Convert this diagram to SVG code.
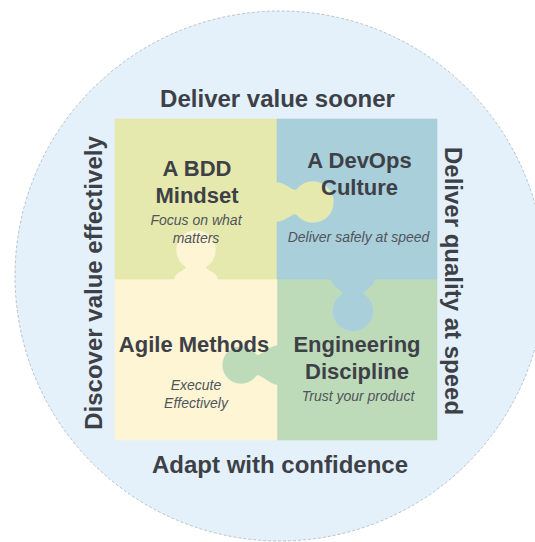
<svg xmlns="http://www.w3.org/2000/svg" width="535" height="542" viewBox="0 0 535 542">
  <style>
    .title { font-family: "Liberation Sans", Arial, Helvetica, sans-serif; font-weight: bold; font-size: 22px; fill: #3d4147; text-anchor: middle; }
    .sub { font-family: "Liberation Sans", Arial, Helvetica, sans-serif; font-style: italic; font-size: 14px; fill: #50555b; text-anchor: middle; }
    .axis { font-family: "Liberation Sans", Arial, Helvetica, sans-serif; font-weight: bold; font-size: 24px; fill: #3d4147; text-anchor: middle; }
    .piece { stroke-width: 0.6; stroke-linejoin: round; }
  </style>
  <rect width="535" height="542" fill="#ffffff"/>
  <circle id="backdrop" cx="280" cy="276" r="265" fill="#e4f1fb" stroke="#aab5bd" stroke-width="0.8" stroke-dasharray="3 2"/>

  <g id="connectors"></g>

  <g id="engineering">
    <path class="piece" fill="#bddbb9" stroke="#bddbb9" d="M277,279 H331 C331,286 345.3,292.1 342,294.3 A20,20 0 1 0 364,294.3 C360.7,292.1 375,286 375,279 H437 V440 H277 V385 C270,385 258.8,372.7 256.5,376 A19,19 0 1 1 256.5,354 C258.8,357.3 270,345 277,345 Z"/>
    <text class="title" x="357" y="352">Engineering</text>
    <text class="title" x="357" y="379">Discipline</text>
    <text class="sub" x="358" y="401">Trust your product</text>
  </g>

  <g id="agile">
    <path class="piece" fill="#fdf5d3" stroke="#fdf5d3" d="M115,279 H174 C174,272 188.3,268.9 185,266.7 A20,20 0 1 1 207,266.7 C203.7,268.9 218,272 218,279 H277 V345 C270,345 258.8,357.3 256.5,354 A19,19 0 1 0 256.5,376 C258.8,372.7 270,385 277,385 V440 H115 Z"/>
    <text class="title" x="194" y="352" font-size="21">Agile Methods</text>
    <text class="sub" x="196" y="390">Execute</text>
    <text class="sub" x="196" y="408">Effectively</text>
  </g>

  <g id="bdd">
    <path class="piece" fill="#e6e9ad" stroke="#e6e9ad" d="M115,119 H277 V182 C285,182 294,192.1 296.5,189 A21,21 0 1 1 296.5,215 C294,211.9 285,222 277,222 V279 H218 C218,272 203.7,268.9 207,266.7 A20,20 0 1 0 185,266.7 C188.3,268.9 174,272 174,279 H115 Z"/>
    <text class="title" x="197" y="176">A BDD</text>
    <text class="title" x="197" y="203">Mindset</text>
    <text class="sub" x="196" y="225">Focus on what</text>
    <text class="sub" x="196" y="243">matters</text>
  </g>

  <g id="devops">
    <path class="piece" fill="#a9cfda" stroke="#a9cfda" d="M277,119 H437 V279 H375 C375,286 360.7,292.1 364,294.3 A20,20 0 1 1 342,294.3 C345.3,292.1 331,286 331,279 H277 V222 C285,222 294,211.9 296.5,215 A21,21 0 1 0 296.5,189 C294,192.1 285,182 277,182 Z"/>
    <text class="title" x="359.5" y="168">A DevOps</text>
    <text class="title" x="359.5" y="195">Culture</text>
    <text class="sub" x="358.5" y="242">Deliver safely at speed</text>
  </g>

  <g id="axis-labels">
    <text class="axis" x="277.5" y="107">Deliver value sooner</text>
    <text class="axis" x="280" y="473">Adapt with confidence</text>
    <text class="axis" transform="translate(102,283) rotate(-90)">Discover value effectively</text>
    <text class="axis" transform="translate(445,281) rotate(90)">Deliver quality at speed</text>
  </g>
</svg>
